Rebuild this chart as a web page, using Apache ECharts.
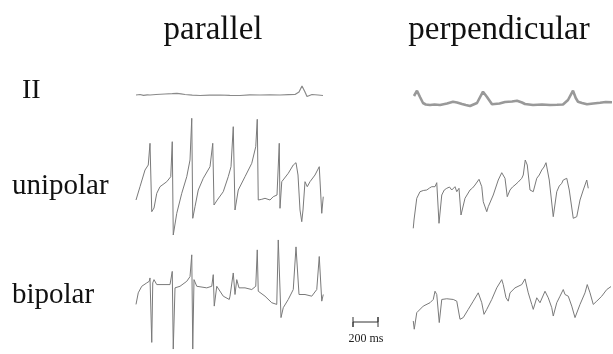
<!DOCTYPE html>
<html>
<head>
<meta charset="utf-8">
<script src="https://cdn.jsdelivr.net/npm/echarts@6/dist/echarts.min.js"></script>
<style>html,body{margin:0;padding:0;background:#fff}#c{width:613px;height:354px}</style>
</head>
<body>
<div id="c"></div>
<script>
// Column and row titles
const columns = ['parallel', 'perpendicular'];
const rows = ['II', 'unipolar', 'bipolar'];
const scaleBarMs = 200;
const scaleBarLabel = '200 ms';

// Traces: [time (ms), amplitude (a.u.)]
const parallelII = [[0,0],[16,0.6],[32,0.5],[60,-0.3],[90,0.2],[112,0],[160,0.5],[232,1],[290,1.4],[328,1.7],[360,1.2],[392,0.5],[450,-0.2],[512,-0.5],[590,-0.1],[672,0],[750,-0.4],[832,-0.5],[910,0.1],[992,0],[1070,0.2],[1152,0],[1220,0.3],[1272,0.5],[1304,3],[1328,9],[1352,3],[1368,-1.5],[1384,-1],[1408,0.5],[1456,0],[1496,-0.5]];
const perpendicularII = [[16,-1],[40,4.3],[64,-2],[88,-8],[110,-9.5],[144,-10],[180,-9.5],[224,-10],[280,-8.5],[328,-6.7],[360,-7.5],[400,-9],[430,-10],[464,-11],[520,-8],[545,-2],[568,3.3],[600,-2],[640,-9.3],[700,-8.5],[744,-7],[800,-6.5],[840,-5.7],[880,-7.5],[904,-9],[968,-10],[1040,-9.5],[1104,-10],[1160,-9.8],[1208,-9.5],[1248,-5],[1288,4.3],[1310,-3],[1328,-6.7],[1360,-8],[1400,-9.3],[1450,-8.5],[1504,-7.7],[1550,-7],[1600,-7.3]];
const parallelUnipolar = [[0,-25],[32,-11.7],[72,5],[98,10],[112,31.7],[126,-36.7],[144,-33],[166,-18.3],[192,-11.7],[246,-6.7],[278,-1.7],[290,33.3],[298,-60],[326,-38.3],[366,-18.3],[406,-1.7],[432,15],[446,56.7],[454,-43.3],[472,-31.7],[498,-15],[538,-3.3],[592,8.3],[614,31.7],[624,-30],[650,-25],[698,-16.7],[738,-1.7],[760,8.3],[778,48.3],[792,-35],[818,-15],[872,-1.7],[926,11.7],[958,28.3],[970,55.7],[978,-25],[1006,-24.3],[1032,-23.3],[1072,-25],[1098,-21.7],[1128,-20],[1146,31.7],[1152,-33.3],[1158,-35],[1166,-6.7],[1218,1.7],[1258,10],[1280,12.3],[1296,0],[1312,-35],[1326,-46.7],[1336,-35],[1352,-6.7],[1370,-11.7],[1392,-6.7],[1432,0],[1466,8.3],[1486,-38.3],[1498,-21.7]];
const perpendicularUnipolar = [[10,-53.3],[16,-45],[38,-23.3],[64,-16.7],[90,-15.5],[118,-15],[140,-13],[158,-11.7],[170,-10],[184,-11.7],[198,-7.7],[216,-48.3],[238,-20],[258,-15],[278,-13.3],[300,-12],[318,-15],[344,-11.7],[358,-16.7],[376,-13.3],[392,-40],[424,-23.3],[464,-15],[484,-13],[504,-10],[520,-8],[536,-4.3],[558,-11.7],[570,-26.7],[598,-36.7],[610,-31.7],[650,-20],[690,-5],[718,2.3],[744,-3.3],[762,-21.7],[784,-15],[804,-12],[824,-10],[850,-7],[878,-3.3],[890,0],[906,15],[922,10],[944,-15],[970,-16.7],[998,-3.3],[1018,0],[1038,5],[1056,8],[1072,12.3],[1098,-5],[1130,-41.7],[1158,-16.7],[1178,-11],[1198,-8.3],[1210,-5],[1238,-3.3],[1258,-15],[1290,-43.3],[1318,-41.7],[1344,-25],[1370,-15],[1398,-5],[1410,-13.3]];
const parallelBipolar = [[0,-10],[18,1.7],[46,8.3],[86,11.7],[106,13.3],[112,16.7],[126,-48.3],[134,11.7],[144,15],[166,10],[272,10],[290,23.3],[298,-55],[312,6.7],[352,8.3],[406,13.3],[432,18],[446,40],[454,-55],[464,15],[486,8.3],[566,6.7],[606,8.3],[618,20],[626,-11.7],[646,8.3],[698,-1.7],[746,-5],[752,-1.7],[778,21.7],[792,0],[806,15],[824,6.7],[872,6.7],[926,5],[958,8.3],[970,45],[978,3.3],[1032,-1.7],[1086,-8.3],[1126,-10],[1138,55],[1160,-23.3],[1178,-13.3],[1218,-5],[1258,5],[1280,48],[1304,0],[1352,0],[1406,-1.7],[1446,5],[1466,38.3],[1486,-6.7],[1498,0]];
const perpendicularBipolar = [[10,-26.7],[18,-35],[38,-18.3],[90,-11.7],[144,-8.3],[170,-5],[184,3.3],[198,0],[206,1.7],[218,-28.3],[238,-5],[278,-4.3],[330,-5],[358,-6.7],[384,-25],[410,-23.3],[450,-15],[490,-6.7],[530,1.7],[544,2.3],[558,-8.3],[576,-20],[598,-15],[638,-5],[678,6.7],[718,15],[730,10],[752,-3.3],[770,-6.7],[784,1.7],[824,6.7],[878,10],[904,15.7],[930,1.7],[958,-10],[970,-15],[998,-3.3],[1024,-8.3],[1064,3.3],[1078,5],[1090,-3.3],[1118,-13.3],[1130,-21.7],[1158,-8.3],[1184,-1.7],[1210,5],[1224,0],[1250,-1.7],[1278,-11.7],[1304,-23.3],[1344,-10],[1384,1.7],[1402,10],[1424,1.7],[1450,-10],[1478,-6.7],[1518,-1.7],[1558,5],[1592,8]];

const traces = [
  {data: parallelII, col: 0, row: 0, w: 1.2, c: '#8a8a8a'},
  {data: perpendicularII, col: 1, row: 0, w: 2.6, c: '#999999'},
  {data: parallelUnipolar, col: 0, row: 1, w: 1, c: '#7a7a7a'},
  {data: perpendicularUnipolar, col: 1, row: 1, w: 1, c: '#7a7a7a'},
  {data: parallelBipolar, col: 0, row: 2, w: 1, c: '#7a7a7a'},
  {data: perpendicularBipolar, col: 1, row: 2, w: 1, c: '#7a7a7a'}
];
const colBox = [{left: 136, width: 189, max: 1512}, {left: 412, width: 200, max: 1600}];
const rowBox = [{top: 80, height: 30, r: 15}, {top: 110, height: 130, r: 65}, {top: 235, height: 120, r: 60}];

const grid = [], xAxis = [], yAxis = [], series = [];
traces.forEach((t, i) => {
  const cb = colBox[t.col], rb = rowBox[t.row];
  grid.push({left: cb.left, width: cb.width, top: rb.top, height: rb.height});
  xAxis.push({type: 'value', gridIndex: i, min: 0, max: cb.max, show: false});
  yAxis.push({type: 'value', gridIndex: i, min: -rb.r, max: rb.r, show: false});
  series.push({type: 'line', xAxisIndex: i, yAxisIndex: i, data: t.data, symbol: 'none', smooth: false,
    lineStyle: {color: t.c, width: t.w}, silent: true, animation: false});
});
// scale bar
const sb = traces.length;
grid.push({left: 353, width: 25, top: 312, height: 20});
xAxis.push({type: 'value', gridIndex: sb, min: 0, max: scaleBarMs, show: false});
yAxis.push({type: 'value', gridIndex: sb, min: -1, max: 1, show: false});
series.push({type: 'line', xAxisIndex: sb, yAxisIndex: sb, symbol: 'none', animation: false,
  data: [[0,0.5],[0,-0.5],[0,0],[scaleBarMs,0],[scaleBarMs,0.5],[scaleBarMs,-0.5]],
  lineStyle: {color: '#333', width: 1}});

const serif = '"Liberation Serif", "DejaVu Serif", serif';
const graphic = [
  {type: 'text', x: 213, y: 30, style: {text: columns[0], font: '33px ' + serif, fill: '#111', align: 'center', verticalAlign: 'middle'}},
  {type: 'text', x: 499, y: 30, style: {text: columns[1], font: '33px ' + serif, fill: '#111', align: 'center', verticalAlign: 'middle'}},
  {type: 'text', x: 22, y: 91, style: {text: rows[0], font: '28px ' + serif, fill: '#111', align: 'left', verticalAlign: 'middle'}},
  {type: 'text', x: 12, y: 186, style: {text: rows[1], font: '29px ' + serif, fill: '#111', align: 'left', verticalAlign: 'middle'}},
  {type: 'text', x: 12, y: 295, style: {text: rows[2], font: '29px ' + serif, fill: '#111', align: 'left', verticalAlign: 'middle'}},
  {type: 'text', x: 366, y: 339, style: {text: scaleBarLabel, font: '12px ' + serif, fill: '#222', align: 'center', verticalAlign: 'middle'}}
];

const chart = echarts.init(document.getElementById('c'), null, {renderer: 'canvas'});
chart.setOption({animation: false, backgroundColor: '#fff', grid, xAxis, yAxis, series, graphic});
</script>
</body>
</html>
